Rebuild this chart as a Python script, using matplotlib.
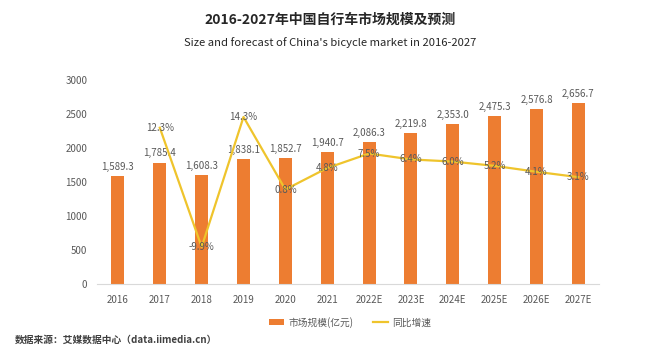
import matplotlib.pyplot as plt
import numpy as np

plt.rcParams['font.family'] = ['Noto Sans CJK SC', 'DejaVu Sans']

years = ['2016', '2017', '2018', '2019', '2020', '2021',
         '2022E', '2023E', '2024E', '2025E', '2026E', '2027E']
market = [1589.3, 1785.4, 1608.3, 1838.1, 1852.7, 1940.7,
          2086.3, 2219.8, 2353.0, 2475.3, 2576.8, 2656.7]
growth = [None, 12.3, -9.9, 14.3, 0.8, 4.8, 7.5, 6.4, 6.0, 5.2, 4.1, 3.1]

bar_color = '#ED7D31'
line_color = '#EFC42C'
txt = '#595959'

fig = plt.figure(figsize=(6.6, 3.52), dpi=100)
ax = fig.add_axes([0.147, 0.193, 0.761, 0.580])
x = np.arange(len(years))

bars = ax.bar(x, market, width=0.31, color=bar_color, label='市场规模(亿元)', zorder=2)
ax.set_ylim(0, 3000)
ax.set_xlim(-0.5, len(years) - 0.5)
ax.set_yticks(range(0, 3001, 500))
ax.set_xticks(x)
ax.set_xticklabels(years)
ax.tick_params(axis='both', length=0, labelsize=7, colors=txt)
ax.tick_params(axis='y', pad=7)
ax.tick_params(axis='x', pad=8)
for s in ['top', 'right', 'left']:
    ax.spines[s].set_visible(False)
ax.spines['bottom'].set_color('#D9D9D9')

for xi, v in zip(x, market):
    ax.text(xi, v + 60, f'{v:,.1f}', ha='center', va='bottom', fontsize=7, color=txt)

ax2 = ax.twinx()
gx = [xi for xi, g in zip(x, growth) if g is not None]
gy = [g for g in growth if g is not None]
line, = ax2.plot(gx, gy, color=line_color, lw=1.6, label='同比增速', zorder=3)
ax2.set_ylim(-16.8, 21.2)
ax2.axis('off')
for xi, g in zip(gx, gy):
    ax2.text(xi, g, f'{g:.1f}%', ha='center', va='center', fontsize=7, color=txt, zorder=4)

fig.legend(handles=[bars, line], loc='center', bbox_to_anchor=(0.53, 0.085), ncol=2,
           frameon=False, fontsize=7, handlelength=1.6, handleheight=0.5,
           columnspacing=2.0, handletextpad=0.4, labelcolor=txt)

fig.text(0.5, 0.943, '2016-2027年中国自行车市场规模及预测', ha='center', va='center',
         fontsize=10, fontweight='bold', color='#262626')
fig.text(0.5, 0.88, "Size and forecast of China's bicycle market in 2016-2027", ha='center',
         va='center', fontsize=8.1, color='#262626')
fig.text(0.023, 0.035, '数据来源：艾媒数据中心（data.iimedia.cn）', ha='left', va='center',
         fontsize=7, fontweight='bold', color='#404040')

fig.savefig('out.png', dpi=100)
